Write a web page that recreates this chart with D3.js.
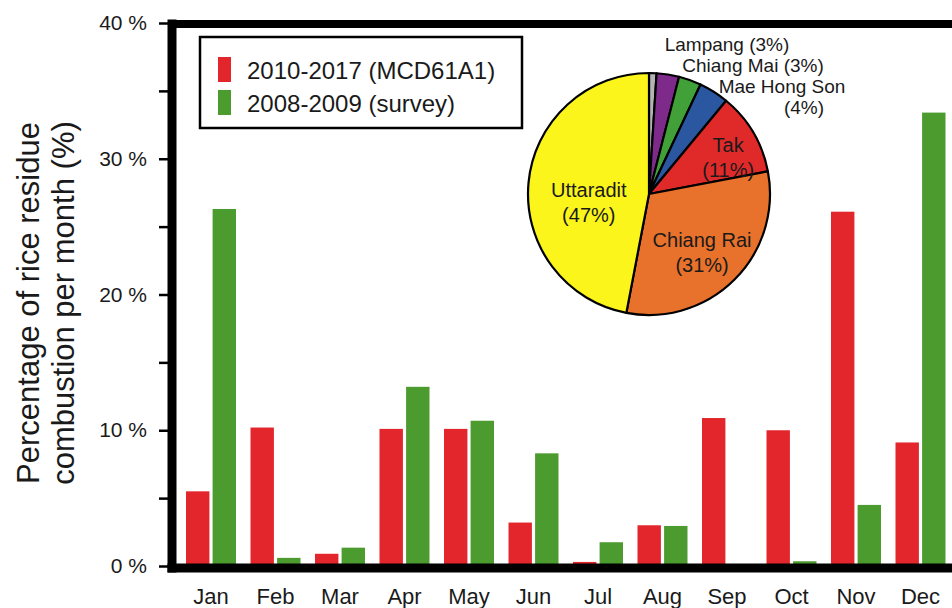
<!DOCTYPE html>
<html>
<head>
<meta charset="utf-8">
<script src="https://cdn.jsdelivr.net/npm/d3@7"></script>
<style>
  body { margin: 0; background: #fff; }
  svg { display: block; }
  text { font-family: "Liberation Sans", Arial, sans-serif; fill: #1a1a1a; }
</style>
</head>
<body>
<svg id="chart" width="952" height="608"></svg>
<script>
// Monthly share of rice residue burning (%)
const months = ["Jan", "Feb", "Mar", "Apr", "May", "Jun", "Jul", "Aug", "Sep", "Oct", "Nov", "Dec"];
const satellite = [5.5, 10.2, 0.9, 10.1, 10.1, 3.2, 0.3, 3.0, 10.9, 10.0, 26.1, 9.1];
const survey = [26.3, 0.6, 1.35, 13.2, 10.7, 8.3, 1.75, 2.95, 0, 0.35, 4.5, 33.4];
const seriesKeys = ["satellite", "survey"];
const seriesNames = ["2010-2017 (MCD61A1)", "2008-2009 (survey)"];
const seriesColors = ["#e2262b", "#4b9b2e"];
const majorTicks = [0, 10, 20, 30, 40];
const minorTicks = [5, 15, 25, 35];

// Provincial share of burned area (%)
const provinces = ["Other", "Lampang", "Chiang Mai", "Mae Hong Son", "Tak", "Chiang Rai", "Uttaradit"];
const provinceShares = [1, 3, 3, 4, 11, 31, 47];
const provinceColors = ["#b4b4b4", "#7d2a8a", "#42a038", "#2b56a0", "#e02a2a", "#e8712b", "#fbf51c"];

const svg = d3.select("#chart");

const x0 = d3.scaleBand().domain(months).range([178.75, 952.75]).paddingInner(0.225).paddingOuter(0.1125);
const x1 = d3.scaleBand().domain(seriesKeys).range([0, x0.bandwidth()]).paddingInner(0.12);
const y = d3.scaleLinear().domain([0, 40]).range([566, 23]);
const color = d3.scaleOrdinal().domain(seriesKeys).range(seriesColors);

const rows = months.map((m, i) => ({ month: m, satellite: satellite[i], survey: survey[i] }));

// Bars
const groups = svg.append("g").selectAll("g").data(rows).join("g")
  .attr("transform", d => `translate(${x0(d.month)},0)`);
groups.selectAll("rect")
  .data(d => seriesKeys.map(k => ({ key: k, value: d[k] })))
  .join("rect")
  .attr("x", d => x1(d.key))
  .attr("width", x1.bandwidth())
  .attr("y", d => y(d.value))
  .attr("height", d => y(0) - y(d.value))
  .attr("fill", d => color(d.key));

// Frame: heavy left / bottom axes and top border
const frame = svg.append("g").attr("stroke", "#000").attr("stroke-linecap", "square");
frame.append("line").attr("x1", 172).attr("x2", 960).attr("y1", 24).attr("y2", 24).attr("stroke-width", 8);
frame.append("line").attr("x1", 172).attr("x2", 172).attr("y1", 24).attr("y2", 568).attr("stroke-width", 9);
frame.append("line").attr("x1", 172).attr("x2", 960).attr("y1", 568).attr("y2", 568).attr("stroke-width", 9);

// Y axis ticks
const yAxis = d3.axisLeft(y)
  .tickValues(majorTicks.concat(minorTicks).sort((a, b) => a - b))
  .tickSize(9)
  .tickPadding(12)
  .tickFormat(d => majorTicks.includes(d) ? d + " %" : "");
const gy = svg.append("g").attr("transform", "translate(168,0)").call(yAxis);
gy.select(".domain").remove();
gy.selectAll(".tick line").attr("stroke", "#000").attr("stroke-width", 2.5);
gy.selectAll(".tick text").attr("font-size", 21).attr("fill", "#1a1a1a")
  .attr("font-family", "Liberation Sans, Arial, sans-serif");

// X axis labels
const xAxis = d3.axisBottom(x0).tickSize(0).tickPadding(20);
const gx = svg.append("g").attr("transform", "translate(0,568)").call(xAxis);
gx.select(".domain").remove();
gx.selectAll(".tick text").attr("font-size", 22).attr("fill", "#1a1a1a")
  .attr("font-family", "Liberation Sans, Arial, sans-serif");

// Y axis title
const title = svg.append("text")
  .attr("transform", "translate(0,303) rotate(-90)")
  .attr("text-anchor", "middle")
  .attr("font-size", 31);
title.append("tspan").attr("x", 0).attr("y", 39).text("Percentage of rice residue");
title.append("tspan").attr("x", 0).attr("y", 74).text("combustion per month (%)");

// Legend
const legend = svg.append("g");
legend.append("rect").attr("x", 200).attr("y", 37).attr("width", 322).attr("height", 91)
  .attr("fill", "#fff").attr("stroke", "#000").attr("stroke-width", 2.5);
seriesNames.forEach((name, i) => {
  legend.append("rect").attr("x", 218).attr("y", 57 + i * 33).attr("width", 13).attr("height", 25)
    .attr("fill", seriesColors[i]);
  legend.append("text").attr("x", 247).attr("y", 79 + i * 33).attr("font-size", 24).text(name);
});

// Pie of provincial shares
const cx = 649, cy = 194, R = 121;
const pieData = d3.pie().sort(null).value(d => d.share)
  (provinces.map((p, i) => ({ name: p, share: provinceShares[i], color: provinceColors[i] })));
const arc = d3.arc().innerRadius(0).outerRadius(R);
const pie = svg.append("g").attr("transform", `translate(${cx},${cy})`);
pie.selectAll("path").data(pieData).join("path")
  .attr("d", arc)
  .attr("fill", d => d.data.color)
  .attr("stroke", "#000")
  .attr("stroke-width", 2.2)
  .attr("stroke-linejoin", "round");

// Labels inside the larger slices: radius fraction and vertical nudge
const insideLabel = {
  "Uttaradit": { r: 0.5, dy: 9 },
  "Chiang Rai": { r: 0.62, dy: 0 },
  "Tak": { r: 0.76, dy: 5 }
};
pieData.filter(d => insideLabel[d.data.name]).forEach(d => {
  const cfg = insideLabel[d.data.name];
  const r = cfg.r * R;
  const c = d3.arc().innerRadius(r).outerRadius(r).centroid(d);
  const t = pie.append("text").attr("text-anchor", "middle").attr("font-size", 20)
    .attr("transform", `translate(${c[0]},${c[1] + cfg.dy})`);
  t.append("tspan").attr("x", 0).attr("y", 0).text(d.data.name);
  t.append("tspan").attr("x", 0).attr("y", 25).text(`(${d.data.share}%)`);
});

// Labels stacked above the small slices
const outside = [
  { name: "Lampang", dx: 78, dy: -143, pctLine: false },
  { name: "Chiang Mai", dx: 104, dy: -122, pctLine: false },
  { name: "Mae Hong Son", dx: 133, dy: -101, pctLine: true }
];
outside.forEach(o => {
  const share = provinceShares[provinces.indexOf(o.name)];
  pie.append("text").attr("x", o.dx).attr("y", o.dy).attr("text-anchor", "middle")
    .attr("font-size", 19).text(o.pctLine ? o.name : `${o.name} (${share}%)`);
  if (o.pctLine) {
    pie.append("text").attr("x", o.dx + 22).attr("y", o.dy + 21).attr("text-anchor", "middle")
      .attr("font-size", 19).text(`(${share}%)`);
  }
});
</script>
</body>
</html>
